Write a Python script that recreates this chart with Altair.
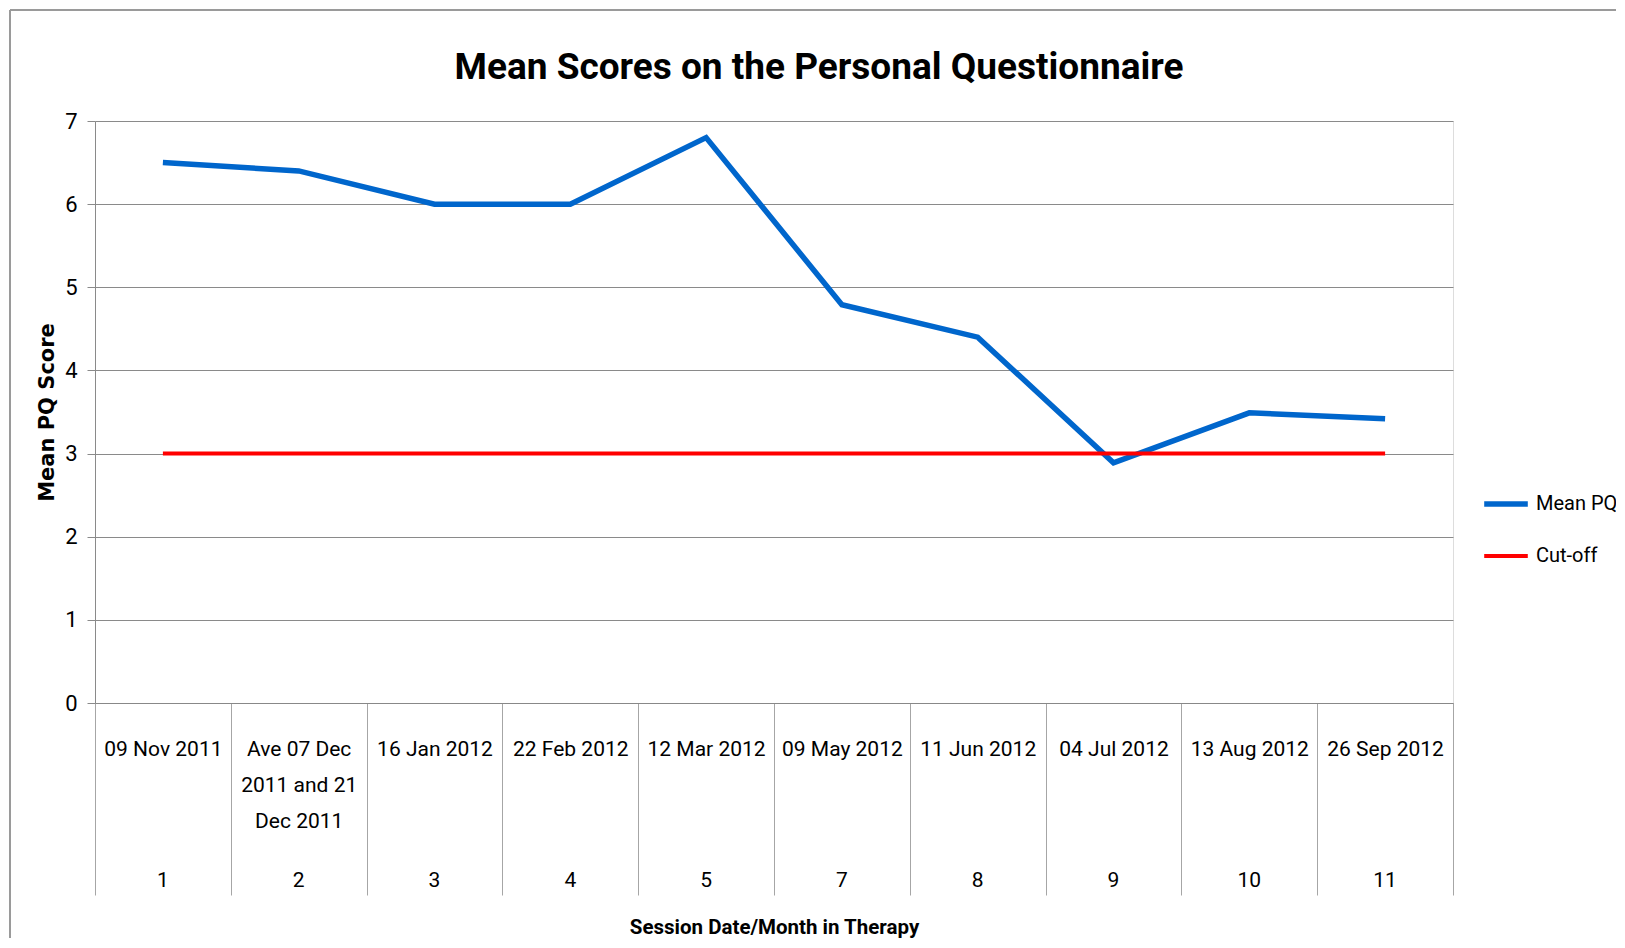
import altair as alt
import pandas as pd

# ---- data ----
dates = ["09 Nov 2011", "Ave 07 Dec\n2011 and 21\nDec 2011", "16 Jan 2012", "22 Feb 2012",
         "12 Mar 2012", "09 May 2012", "11 Jun 2012", "04 Jul 2012", "13 Aug 2012", "26 Sep 2012"]
sessions = ["1", "2", "3", "4", "5", "7", "8", "9", "10", "11"]
mean_pq = [6.5, 6.4, 6.0, 6.0, 6.8, 4.79, 4.4, 2.89, 3.49, 3.42]
cutoff = [3, 3, 3, 3, 3, 3, 3, 3, 3, 3]
series_names = ["Mean PQ", "Cut-off"]
series_colors = ["#0066CC", "#FF0000"]
y_ticks = [0, 1, 2, 3, 4, 5, 6, 7]

FONT = "Roboto"
W, H = 1358, 582

rows = []
for d, v in zip(dates, mean_pq):
    rows.append({"date": d, "series": series_names[0], "value": v})
for d, v in zip(dates, cutoff):
    rows.append({"date": d, "series": series_names[1], "value": v})
df = pd.DataFrame(rows)
df_sess = pd.DataFrame({"date": dates, "session": sessions})

xscale = alt.Scale(type="band", domain=dates, paddingInner=0, paddingOuter=0)

x_enc = alt.X(
    "date:N", sort=dates, scale=xscale, bandPosition=0.5,
    axis=alt.Axis(
        title="Session Date/Month in Therapy", labelAngle=0, tickBand="extent",
        tickSize=192, tickColor="#a6a6a6", tickWidth=1, domainColor="#888888",
        labelExpr="isValid(datum.value) ? split(datum.value, '\\n') : ''",
        labelLineHeight=36, labelPadding=-157, labelBaseline="top",
        labelFontSize=21, labelColor="#000", labelFont=FONT, labelLimit=200,
        titleFont=FONT, titleFontSize=20.5, titleFontWeight="bold",
        titleColor="#000", titleY=224, titleBaseline="middle",
    ),
)

lines = alt.Chart(df).mark_line(strokeCap="butt", strokeJoin="miter").encode(
    x=x_enc,
    y=alt.Y(
        "value:Q", scale=alt.Scale(domain=[0, 7], nice=False),
        axis=alt.Axis(
            values=y_ticks, title="Mean PQ Score", grid=True, gridColor="#8a8a8a",
            gridWidth=1, tickColor="#8a8a8a", tickSize=8, domainColor="#8a8a8a",
            labelPadding=10, labelFontSize=22, labelColor="#000", labelFont=FONT,
            titleFont="DejaVu Sans", titleFontSize=21, titleFontWeight="bold",
            titleColor="#000", titleX=-48, titleY=H / 2, titleAngle=270,
            titleBaseline="middle",
        ),
    ),
    color=alt.Color(
        "series:N", scale=alt.Scale(domain=series_names, range=series_colors),
        sort=series_names,
        legend=alt.Legend(
            title=None, orient="none", legendX=1386, legendY=358,
            symbolType="stroke", symbolSize=1900, symbolStrokeWidth=5,
            labelFontSize=20, labelFont=FONT, labelColor="#000", labelOffset=5,
            rowPadding=17, labelLimit=300,
        ),
    ),
    strokeWidth=alt.StrokeWidth(
        "series:N", scale=alt.Scale(domain=series_names, range=[5.5, 4]), legend=None
    ),
)

sess_text = alt.Chart(df_sess).mark_text(
    fontSize=21, font=FONT, baseline="middle", color="#000"
).encode(
    x=alt.X("date:N", sort=dates, scale=xscale, bandPosition=0.5),
    y=alt.value(760),
    text="session:N",
)

frame_df = pd.DataFrame({"k": [0]})
top_border = alt.Chart(frame_df).mark_rule(color="#9a9a9a", strokeWidth=2).encode(
    x=alt.value(-85), x2=alt.value(1600), y=alt.value(-111)
)
left_border = alt.Chart(frame_df).mark_rule(color="#9a9a9a", strokeWidth=2).encode(
    x=alt.value(-85), y=alt.value(-111), y2=alt.value(900)
)

chart = alt.layer(top_border, left_border, lines, sess_text).properties(
    width=W, height=H,
    title=alt.TitleParams(
        "Mean Scores on the Personal Questionnaire", font=FONT, fontSize=37,
        fontWeight="bold", color="#000", anchor="middle", frame="group",
        baseline="bottom", offset=-115, dx=45,
    ),
    autosize=alt.AutoSizeParams(type="none"),
    padding={"left": 87, "top": 113, "right": 163, "bottom": 235},
).configure_view(strokeWidth=0).configure(font=FONT)

chart.save("out.html", embed_options={"renderer": "svg", "actions": False})
